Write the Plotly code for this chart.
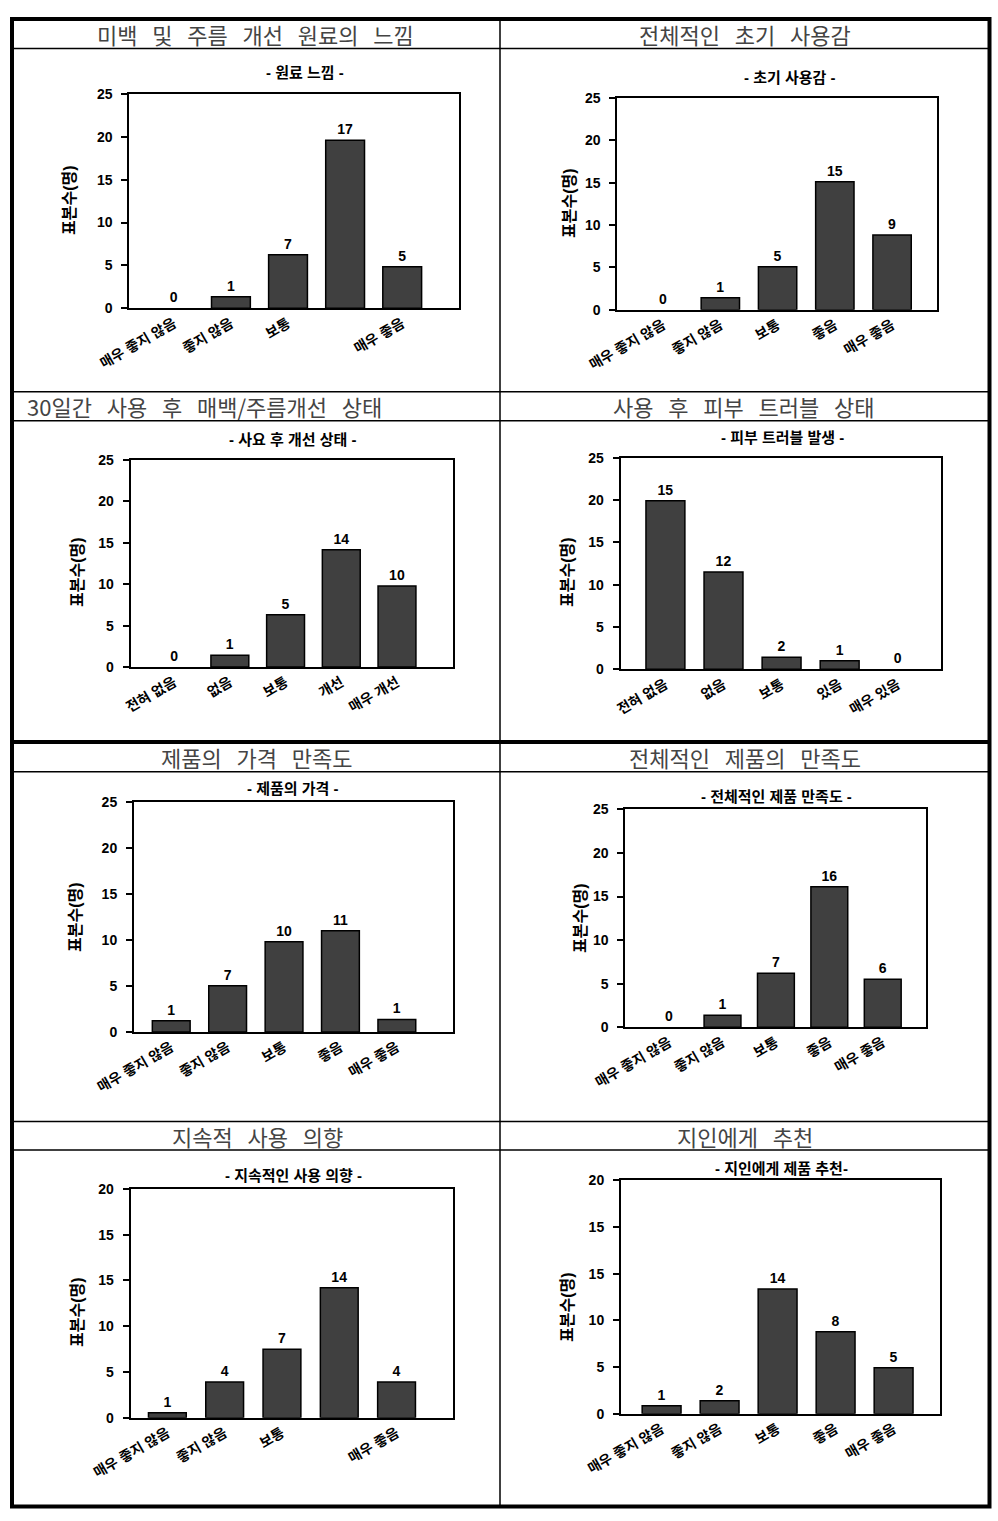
import plotly.graph_objects as go

W, H = 998, 1521

# ---------------- data ----------------
panel_titles = ["미백 및 주름 개선 원료의 느낌", "전체적인 초기 사용감",
                "30일간 사용 후 매백/주름개선 상태", "사용 후 피부 트러블 상태",
                "제품의 가격 만족도", "전체적인 제품의 만족도",
                "지속적 사용 의향", "지인에게 추천"]
chart_titles = ["- 원료 느낌 -", "- 초기 사용감 -", "- 사요 후 개선 상태 -", "- 피부 트러블 발생 -",
                "- 제품의 가격 -", "- 전체적인 제품 만족도 -", "- 지속적인 사용 의향 -", "- 지인에게 제품 추천-"]

cats_good = ["매우 좋지 않음", "좋지 않음", "보통", "좋음", "매우 좋음"]
cats_improve = ["전혀 없음", "없음", "보통", "개선", "매우 개선"]
cats_trouble = ["전혀 없음", "없음", "보통", "있음", "매우 있음"]

ticks_good_missing = ["매우 좋지 않음", "좋지 않음", "보통", "", "매우 좋음"]

y_ticks_25 = ["0", "5", "10", "15", "20", "25"]
y_ticks_20 = ["0", "5", "10", "15", "15", "20"]
y_tickvals = [0, 5, 10, 15, 20, 25]

# bar heights as drawn (axis units) and printed labels
h1 = [0, 1.36, 6.26, 19.6, 4.86];   l1 = ["0", "1", "7", "17", "5"]
h2 = [0, 1.42, 5.08, 15.1, 8.82];   l2 = ["0", "1", "5", "15", "9"]
h3 = [0, 1.41, 6.32, 14.17, 9.78];  l3 = ["0", "1", "5", "14", "10"]
h4 = [19.92, 11.5, 1.42, 1.02, 0];  l4 = ["15", "12", "2", "1", "0"]
h5 = [1.23, 5.03, 9.80, 11.0, 1.37]; l5 = ["1", "7", "10", "11", "1"]
h6 = [0, 1.38, 6.19, 16.13, 5.50];  l6 = ["0", "1", "7", "16", "6"]
h7 = [0.55, 3.9, 7.47, 14.2, 3.9];  l7 = ["1", "4", "7", "14", "4"]
h8 = [0.86, 1.39, 13.36, 8.79, 4.93]; l8 = ["1", "2", "14", "8", "5"]

charts = [
    (cats_good, ticks_good_missing, h1, l1, y_ticks_25),
    (cats_good, cats_good, h2, l2, y_ticks_25),
    (cats_improve, cats_improve, h3, l3, y_ticks_25),
    (cats_trouble, cats_trouble, h4, l4, y_ticks_25),
    (cats_good, cats_good, h5, l5, y_ticks_25),
    (cats_good, cats_good, h6, l6, y_ticks_25),
    (cats_good, ticks_good_missing, h7, l7, y_ticks_20),
    (cats_good, cats_good, h8, l8, y_ticks_20),
]

# ---------------- layout (pixels) ----------------
plot_boxes = [(129.3, 94, 459.3, 308.3), (617.3, 98, 937.3, 309.7),
              (130.7, 460, 452.7, 667), (620.7, 457.7, 941.3, 669.3),
              (134, 801.7, 452.7, 1032), (625.3, 809.3, 926, 1027.3),
              (130.7, 1189, 452.7, 1417.7), (621, 1180.3, 940, 1413.7)]
x_ranges = [(-0.78, 5.0), (-0.80, 4.79), (-0.78, 5.0), (-0.77, 4.75),
            (-0.66, 4.99), (-0.82, 4.81), (-0.64, 4.98), (-0.70, 4.80)]
bar_widths = [0.68, 0.67, 0.68, 0.67, 0.67, 0.69, 0.66, 0.67]
sub_pos = [(305, 72), (790, 77), (292, 439), (782, 437), (293, 788), (776, 796), (293, 1175), (781, 1168)]
ylab_pos = [(70, 200), (570, 203), (77, 572), (567, 572), (75, 917), (580, 918), (77, 1312), (567, 1307)]
panel_pos = [(256, 34, "center"), (745, 34, "center"), (25, 406, "left"), (744, 406, "center"),
             (257, 757, "center"), (745, 757, "center"), (257, 1136, "center"), (745, 1136, "center")]

def px(x):
    return x / W

def py(y):
    return 1 - y / H

BOLD = "Liberation Sans, Arial, Noto Sans CJK KR"
fig = go.Figure()
annotations = []
layout_axes = {}

for i, (cats, ticks, heights, labels, yt) in enumerate(charts):
    n = i + 1
    xa = "x" if n == 1 else f"x{n}"
    ya = "y" if n == 1 else f"y{n}"
    fig.add_trace(go.Bar(
        x=cats, y=heights, text=labels, textposition="outside",
        textfont=dict(family=BOLD, size=14, color="black", weight="bold"),
        marker=dict(color="#404040",
                    line=dict(color="black", width=[1.5 if v > 0 else 0 for v in heights])),
        width=bar_widths[i], cliponaxis=False, xaxis=xa, yaxis=ya, showlegend=False,
    ))
    x0, y0, x1, y1 = plot_boxes[i]
    layout_axes[f"xaxis{'' if n == 1 else n}"] = dict(
        domain=[px(x0), px(x1)], anchor=ya, type="category", automargin=False,
        range=list(x_ranges[i]), tickvals=cats, ticktext=ticks, tickangle=-30,
        showline=True, linecolor="black", linewidth=2, mirror=True,
        ticks="", showgrid=False, zeroline=False,
        tickfont=dict(family=BOLD, size=14, color="black", weight="bold"),
    )
    layout_axes[f"yaxis{'' if n == 1 else n}"] = dict(
        domain=[py(y1), py(y0)], anchor=xa, range=[0, 25], automargin=False,
        tickvals=y_tickvals, ticktext=yt, ticks="outside", ticklen=6, tickwidth=1.5,
        tickcolor="black", ticklabelstandoff=6,
        showline=True, linecolor="black", linewidth=2, mirror=True,
        showgrid=False, zeroline=False,
        tickfont=dict(family=BOLD, size=14, color="black", weight="bold"),
    )
    sx, sy = sub_pos[i]
    annotations.append(dict(x=px(sx), y=py(sy), xref="paper", yref="paper", text=chart_titles[i],
                            showarrow=False, xanchor="center", yanchor="middle",
                            font=dict(family=BOLD, size=15, color="black", weight="bold")))
    lx, ly = ylab_pos[i]
    annotations.append(dict(x=px(lx), y=py(ly), xref="paper", yref="paper", text="표본수(명)",
                            textangle=-90, showarrow=False, xanchor="center", yanchor="middle",
                            font=dict(family=BOLD, size=16, color="black", weight="bold")))
    tx, ty, anc = panel_pos[i]
    annotations.append(dict(x=px(tx), y=py(ty), xref="paper", yref="paper",
                            text=panel_titles[i].replace(" ", "\u00a0\u00a0\u00a0"),
                            showarrow=False, xanchor=anc, yanchor="middle",
                            font=dict(family="Noto Sans CJK KR", size=22, color="#444444")))

# table lines
L, R, T, B = 12, 989.5, 19, 1506.5
shapes = []
def hline(y, w, x0=L, x1=R):
    shapes.append(dict(type="line", xref="paper", yref="paper", x0=px(x0), x1=px(x1), y0=py(y), y1=py(y),
                       line=dict(color="black", width=w)))
def vline(x, w, y0=T, y1=B):
    shapes.append(dict(type="line", xref="paper", yref="paper", x0=px(x), x1=px(x), y0=py(y0), y1=py(y1),
                       line=dict(color="black", width=w)))

for y in [48.5, 391.7, 420.7, 771.7, 1121.5, 1150]:
    hline(y, 1.5)
vline(500, 1.5)
hline(742, 4)
shapes.append(dict(type="rect", xref="paper", yref="paper", x0=px(L), x1=px(R), y0=py(B), y1=py(T),
                   line=dict(color="black", width=4)))

fig.update_layout(
    width=W, height=H, margin=dict(l=0, r=0, t=0, b=0, autoexpand=False),
    paper_bgcolor="white", plot_bgcolor="white",
    annotations=annotations, shapes=shapes, **layout_axes,
)
fig.write_html("out.html")
